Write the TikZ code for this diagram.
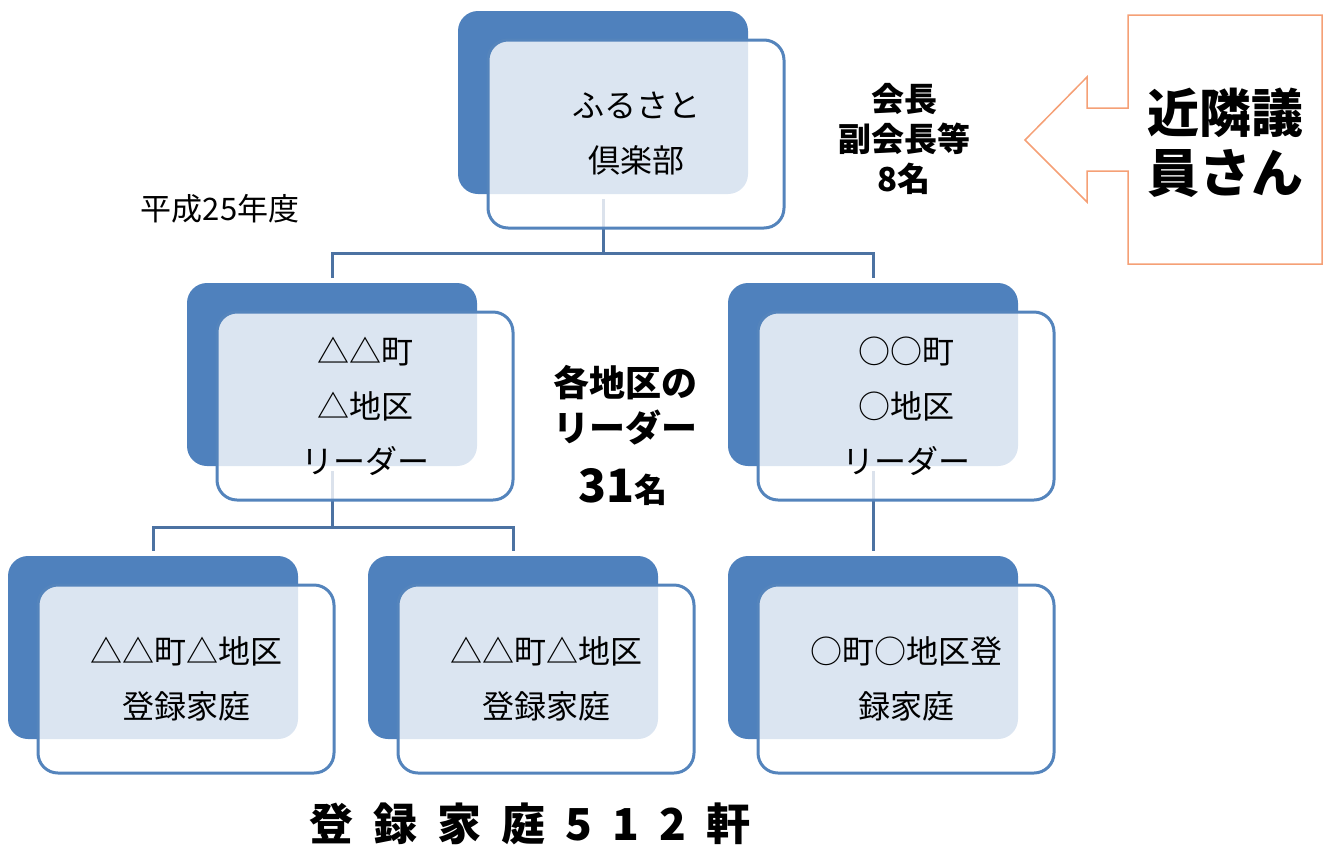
\documentclass[tikz,border=0pt]{standalone}
\usepackage{fontspec}
\newfontfamily\jp{Noto Sans CJK JP}
\definecolor{darkblue}{RGB}{79,129,189}
\definecolor{boxline}{RGB}{84,132,188}
\definecolor{connline}{RGB}{76,114,162}
\definecolor{orangeline}{RGB}{245,160,118}
\begin{document}
\begin{tikzpicture}[x=1pt,y=-1pt,
  darkbox/.style={fill=darkblue, rounded corners=20pt, minimum width=290pt, minimum height=183pt, inner sep=0pt, outer sep=0pt},
  whitebox/.style={draw=boxline, line width=3pt, fill=white, fill opacity=0.8, text opacity=1, rounded corners=20pt, minimum width=296pt, minimum height=188pt, inner sep=0pt, outer sep=0pt, align=center, font=\jp\fontsize{32pt}{55pt}\selectfont},
  conn/.style={draw=connline, line width=3pt},
  plaintxt/.style={align=center, inner sep=0pt, font=\jp\fontsize{31pt}{35pt}\selectfont},
  boldtxt/.style={align=center, inner sep=0pt, font=\jp\bfseries\fontsize{33pt}{40pt}\selectfont}]
\useasboundingbox (0,0) rectangle (1323,855);
% dark back boxes
\node[darkbox] (tD)  at (603,102.5) {};
\node[darkbox] (lmD) at (332,374.5) {};
\node[darkbox] (rmD) at (873,374.5) {};
\node[darkbox] (blD) at (153,647.5) {};
\node[darkbox] (bmD) at (513,647.5) {};
\node[darkbox] (brD) at (873,647.5) {};
% connectors
\coordinate (j1) at (603,253);
\coordinate (j2) at (332,527);
\draw[conn] ([yshift=-5pt]tD.south) -- (j1);
\draw[conn] (j1) -| ([yshift=5pt]lmD.north);
\draw[conn] (j1) -| ([yshift=5pt]rmD.north);
\draw[conn] ([yshift=-5pt]lmD.south) -- (j2);
\draw[conn] (j2) -| ([yshift=5pt]blD.north);
\draw[conn] (j2) -| ([yshift=5pt]bmD.north);
\draw[conn] ([yshift=-5pt]rmD.south) -- ([yshift=5pt]brD.north);
% front boxes
\node[whitebox] (tW)  at (636,134) {ふるさと\\倶楽部};
\node[whitebox] (lmW) at (365,406) {△△町\\△地区\\リーダー};
\node[whitebox] (rmW) at (906,406) {○○町\\○地区\\リーダー};
\node[whitebox] (blW) at (186,679) {△△町△地区\\登録家庭};
\node[whitebox] (bmW) at (546,679) {△△町△地区\\登録家庭};
\node[whitebox] (brW) at (906,679) {○町○地区登\\録家庭};
% texts
\node[plaintxt] (year) at (220,209) {平成25年度};
\node[boldtxt] (officers) at (904,139) {会長\\副会長等\\8名};
\node[boldtxt, font=\jp\bfseries\fontsize{36pt}{45pt}\selectfont] (lead) at (625,405) {各地区の\\リーダー};
\node[boldtxt] (count) at (623,487) {\fontsize{46pt}{46pt}\selectfont 31\fontsize{33pt}{33pt}\selectfont 名};
\node[boldtxt, font=\jp\bfseries\fontsize{44pt}{44pt}\selectfont] (total) at (530,824) {登\hspace{20pt}録\hspace{20pt}家\hspace{20pt}庭\hspace{20pt}5\hspace{20pt}1\hspace{20pt}2\hspace{20pt}軒};
% orange arrow box
\draw[orangeline, line width=1.5pt] (1128,15) -- (1322,15) -- (1322,264) -- (1128,264) -- (1128,171) -- (1087,171) -- (1087,202) -- (1025,140) -- (1087,77) -- (1087,108) -- (1128,108) -- cycle;
\node[boldtxt, font=\jp\bfseries\fontsize{52pt}{60pt}\selectfont] (giin) at (1225,143) {近隣議\\員さん};
\end{tikzpicture}
\end{document}
